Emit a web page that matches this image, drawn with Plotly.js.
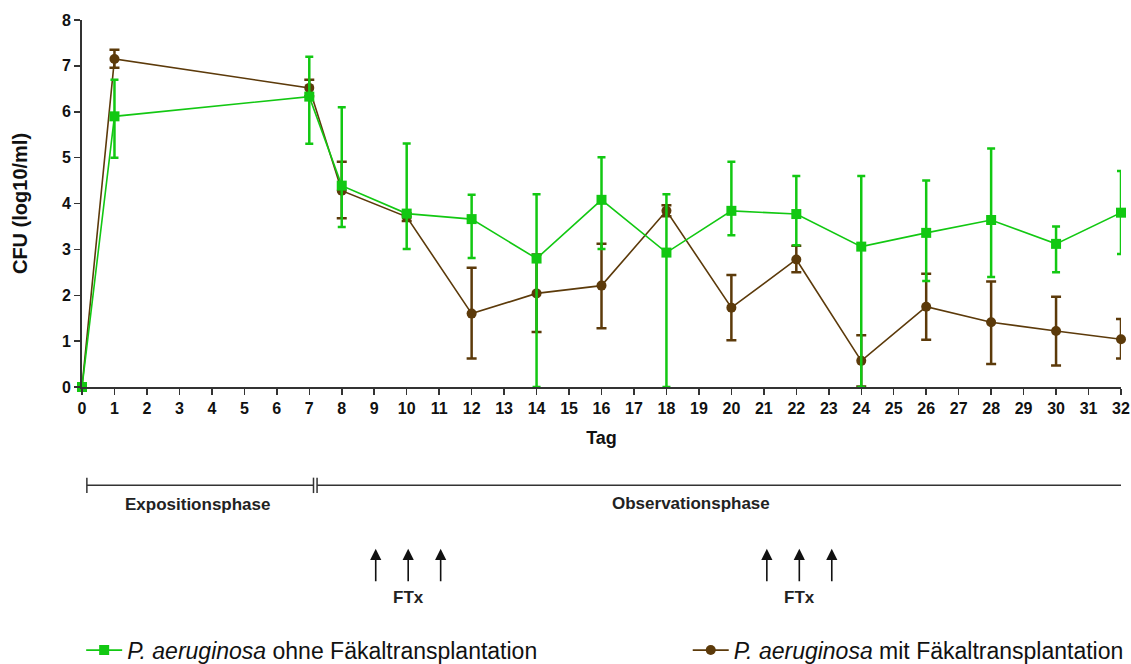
<!DOCTYPE html>
<html>
<head>
<meta charset="utf-8">
<script src="https://cdn.plot.ly/plotly-3.0.1.min.js"></script>
<style>html,body{margin:0;padding:0;background:#fff;}#chart{width:1131px;height:664px;}</style>
</head>
<body>
<div id="chart"></div>
<script>
// ---- data ----
const days = [0, 1, 7, 8, 10, 12, 14, 16, 18, 20, 22, 24, 26, 28, 30, 32];

const ohne   = [0, 5.90, 6.33, 4.39, 3.78, 3.66, 2.80, 4.08, 2.93, 3.84, 3.77, 3.06, 3.36, 3.64, 3.12, 3.80];
const ohneUp = [0, 0.80, 0.87, 1.71, 1.53, 0.53, 1.40, 0.93, 1.27, 1.07, 0.83, 1.54, 1.14, 1.56, 0.38, 0.91];
const ohneDn = [0, 0.90, 1.03, 0.90, 0.77, 0.85, 2.80, 1.07, 2.93, 0.53, 0.68, 3.06, 1.05, 1.24, 0.62, 0.90];

const mit   = [0, 7.15, 6.52, 4.28, 3.71, 1.60, 2.04, 2.21, 3.84, 1.73, 2.78, 0.57, 1.75, 1.41, 1.22, 1.04];
const mitUp = [0, 0.20, 0.18, 0.63, 0.08, 1.00, 0.85, 0.91, 0.12, 0.71, 0.30, 0.56, 0.72, 0.89, 0.75, 0.44];
const mitDn = [0, 0.19, 0.18, 0.60, 0.09, 0.98, 0.84, 0.93, 0.12, 0.71, 0.28, 0.56, 0.72, 0.91, 0.75, 0.42];

const yTicks = [0, 1, 2, 3, 4, 5, 6, 7, 8];
const xTicks = Array.from({length: 33}, (_, i) => i);

const ftxDays = [[9, 10, 11], [21, 22, 23]];
const phaseLabels = ["Expositionsphase", "Observationsphase"];
const legendNames = ["<i>P. aeruginosa</i> ohne Fäkaltransplantation",
                     "<i>P. aeruginosa</i> mit Fäkaltransplantation"];

const GREEN = "#12C812";
const BROWN = "#5C3A0A";
const DARK = "#333333";
const FONT = "Liberation Sans, Arial, sans-serif";

const traces = [
  {
    x: days, y: mit, name: legendNames[1], type: "scatter", mode: "lines+markers",
    legend: "legend2",
    line: {color: BROWN, width: 1.6},
    marker: {color: BROWN, size: 10, symbol: "circle"},
    error_y: {type: "data", symmetric: false, array: mitUp, arrayminus: mitDn,
              color: BROWN, thickness: 2.5, width: 5},
    cliponaxis: false
  },
  {
    x: days, y: ohne, name: legendNames[0], type: "scatter", mode: "lines+markers",
    legend: "legend",
    line: {color: GREEN, width: 1.6},
    marker: {color: GREEN, size: 10, symbol: "square"},
    error_y: {type: "data", symmetric: false, array: ohneUp, arrayminus: ohneDn,
              color: GREEN, thickness: 2.5, width: 4},
    cliponaxis: false
  }
];

// ---- phase bar & arrows (layout decorations) ----
const yBar = -0.268;
const capH = 0.021;
const barLine = {color: DARK, width: 1.5};
const shapes = [
  {type: "line", xref: "x", yref: "paper", x0: 0.15, x1: 7.13, y0: yBar, y1: yBar, line: barLine},
  {type: "line", xref: "x", yref: "paper", x0: 7.24, x1: 32.08, y0: yBar, y1: yBar, line: barLine}
];
[0.15, 7.13, 7.24, 32.08].forEach(xv => {
  shapes.push({type: "line", xref: "x", yref: "paper", x0: xv, x1: xv, y0: yBar - capH, y1: yBar + capH, line: barLine});
});

const annotations = [
  {xref: "x", yref: "paper", x: 3.55, y: -0.32, yanchor: "middle", text: "<b>" + phaseLabels[0] + "</b>", showarrow: false,
   font: {family: FONT, size: 17, color: "#222"}},
  {xref: "x", yref: "paper", x: 18.75, y: -0.318, yanchor: "middle", text: "<b>" + phaseLabels[1] + "</b>", showarrow: false,
   font: {family: FONT, size: 17, color: "#222"}}
];
ftxDays.forEach((grp, gi) => {
  const shift = gi === 0 ? 1.5 : 3;
  grp.forEach(d => {
    annotations.push({xref: "x", yref: "paper", x: d, y: -0.441, xshift: shift, text: "", showarrow: true,
      ax: 0, ay: 34, arrowhead: 2, arrowsize: 1.4, arrowwidth: 1.6, arrowcolor: "#111", standoff: 0});
  });
  annotations.push({xref: "x", yref: "paper", x: grp[1], y: -0.574, yanchor: "middle", xshift: shift, text: "<b>FTx</b>", showarrow: false,
    font: {family: FONT, size: 17, color: "#222"}});
});

const legendFont = {family: FONT, size: 23, color: "#111"};
const layout = {
  width: 1131, height: 664,
  margin: {l: 82, r: 10, t: 20, b: 277, autoexpand: false},
  paper_bgcolor: "#fff", plot_bgcolor: "#fff",
  font: {family: FONT, color: "#111"},
  showlegend: true,
  legend: {orientation: "h", x: -0.0008, xanchor: "left", y: -0.717, yanchor: "middle",
           itemwidth: 36, font: legendFont, bgcolor: "rgba(0,0,0,0)"},
  legend2: {orientation: "h", x: 0.583, xanchor: "left", y: -0.717, yanchor: "middle",
           itemwidth: 36, font: legendFont, bgcolor: "rgba(0,0,0,0)"},
  xaxis: {
    range: [0, 32], tickmode: "array", tickvals: xTicks, ticktext: xTicks.map(String), automargin: false,
    showline: true, linecolor: DARK, linewidth: 1.8, ticks: "outside", ticklen: 6, tickwidth: 1.5, tickcolor: DARK,
    showgrid: false, zeroline: false, tickfont: {family: FONT, size: 16, weight: "bold", color: "#111"},
    title: {text: "Tag", font: {family: FONT, size: 18, weight: "bold", color: "#111"}, standoff: 15}
  },
  yaxis: {
    range: [0, 8], tickmode: "array", tickvals: yTicks, ticktext: yTicks.map(String), automargin: false,
    showline: true, linecolor: DARK, linewidth: 1.8, ticks: "outside", ticklen: 6, tickwidth: 1.5, tickcolor: DARK,
    showgrid: false, zeroline: false, tickfont: {family: FONT, size: 16, weight: "bold", color: "#111"},
    title: {text: "CFU (log10/ml)", font: {family: FONT, size: 20, weight: "bold", color: "#111"}, standoff: 29}
  },
  shapes: shapes,
  annotations: annotations
};

Plotly.newPlot("chart", traces, layout, {displayModeBar: false, staticPlot: true});
</script>
</body>
</html>
